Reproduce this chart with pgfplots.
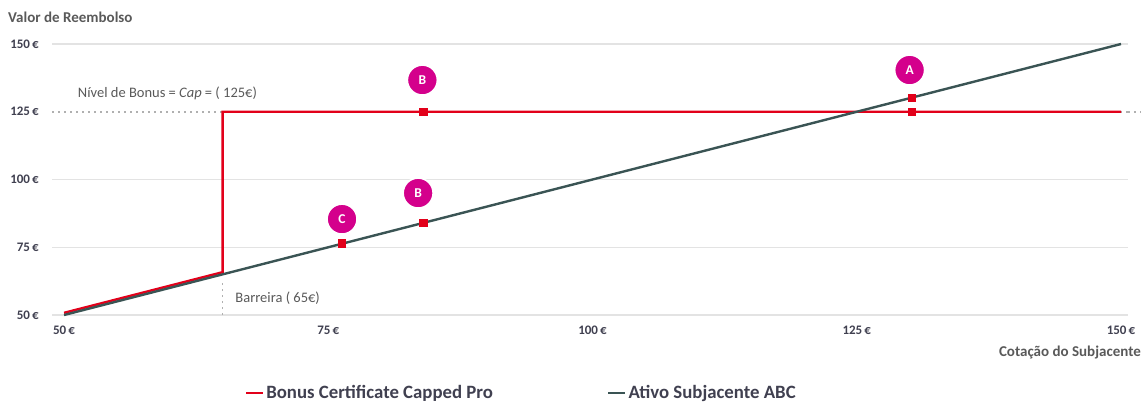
\documentclass[border=0pt]{standalone}
\usepackage{fontspec}
\setmainfont{Carlito}
\usepackage{pgfplots}
\pgfplotsset{compat=1.18}
\definecolor{cred}{HTML}{E2001A}
\definecolor{cgray}{HTML}{3A5454}
\definecolor{cmag}{HTML}{D4008C}
\definecolor{ctxt}{HTML}{595959}
\definecolor{ctick}{HTML}{404050}
\definecolor{cgrid}{HTML}{E3E3E3}
\definecolor{cdot}{HTML}{B0B0B0}
\begin{document}
\begin{tikzpicture}
\path[use as bounding box] (0pt,0pt) rectangle (1144pt,-402pt);
\begin{axis}[
 at={(52pt,-315pt)}, anchor=south west,
 width=1076pt, height=271pt, scale only axis,
 xmin=48.86, xmax=150.66, ymin=50, ymax=150,
 clip=false,
 axis line style={draw=none},
 major tick length=0pt,
 /pgf/number format/assume math mode=true,
 tick label style={font=\fontsize{13}{15}\selectfont\bfseries, text=ctick, inner sep=0pt},
 xtick={50,75,100,125,150}, xticklabels={50\,€,75\,€,100\,€,125\,€,150\,€},
 ytick={50,75,100,150}, yticklabels={50\,€,75\,€,100\,€,150\,€},
 extra y ticks={125}, extra y tick labels={125\,€},
 extra y tick style={grid style={cdot, line width=1.8pt, dash pattern=on 1.6pt off 4.4pt}},
 ymajorgrids, grid style={cgrid, line width=1.2pt},
 xticklabel style={yshift=-11pt},
 yticklabel style={xshift=-13pt, anchor=east},
 legend style={at={(rel axis cs:0.179,-0.288)}, anchor=west, draw=none, fill=none, inner sep=0pt,
   font=\fontsize{18.8}{20}\selectfont\bfseries, text=ctick,
   /tikz/every even column/.append style={column sep=112pt}},
 legend columns=2,
 legend image code/.code={\draw[#1, line width=2.5pt] (0pt,0pt) -- (17pt,0pt);},
]
% dotted extensions
\addplot[forget plot, cdot, line width=1.8pt, dash pattern=on 1.6pt off 4.4pt] coordinates {(150.66,125) (151.8,125)};
\addplot[forget plot, cdot, line width=1.8pt, dash pattern=on 1.6pt off 4.4pt] coordinates {(65,50) (65,62)};
% series
\addplot[cred, line width=2.4pt] coordinates {(50,50.8) (65,65.8) (65,125) (150,125)};
\addlegendentry{Bonus Certificate Capped Pro}
\addplot[cgray, line width=2.4pt] coordinates {(50,50) (150,150)};
\addlegendentry{Ativo Subjacente ABC}
% red square markers
\addplot[forget plot, only marks, color=cred, mark=square*, mark size=3.6pt, mark options={fill=cred, draw=cred, line width=0pt}]
 coordinates {(84,125) (84,84) (76.3,76.4) (130.2,130.2) (130.2,125)};
% circle labels
\addplot[forget plot, only marks, mark=*, mark size=15pt, mark options={fill=cmag, draw=white, line width=1.6pt},
 nodes near coords, point meta=explicit symbolic,
 every node near coord/.style={anchor=center, text=white, font=\fontsize{13.5}{15}\selectfont\bfseries, inner sep=0pt}]
 table[meta=label] {
 x y label
 83.9 136.7 B
 83.5 95.0 B
 76.3 85.4 C
 130.0 140.4 A
 };
\node[anchor=west, text=ctxt, font=\fontsize{14.5}{16}\selectfont, inner sep=0pt] at (axis cs:51.3,131.9) {Nível de Bonus = \textit{Cap} = ( 125€)};
\node[anchor=west, text=ctxt, font=\fontsize{14.5}{16}\selectfont, inner sep=0pt] at (axis cs:66.2,56.3) {Barreira ( 65€)};
\end{axis}
\node[anchor=west, text=ctxt, font=\fontsize{15}{17}\selectfont\bfseries, inner sep=0pt] at (8pt,-17pt) {Valor de Reembolso};
\node[anchor=east, text=ctxt, font=\fontsize{15}{17}\selectfont\bfseries, inner sep=0pt] at (1141pt,-352pt) {Cotação do Subjacente};
\end{tikzpicture}
\end{document}
